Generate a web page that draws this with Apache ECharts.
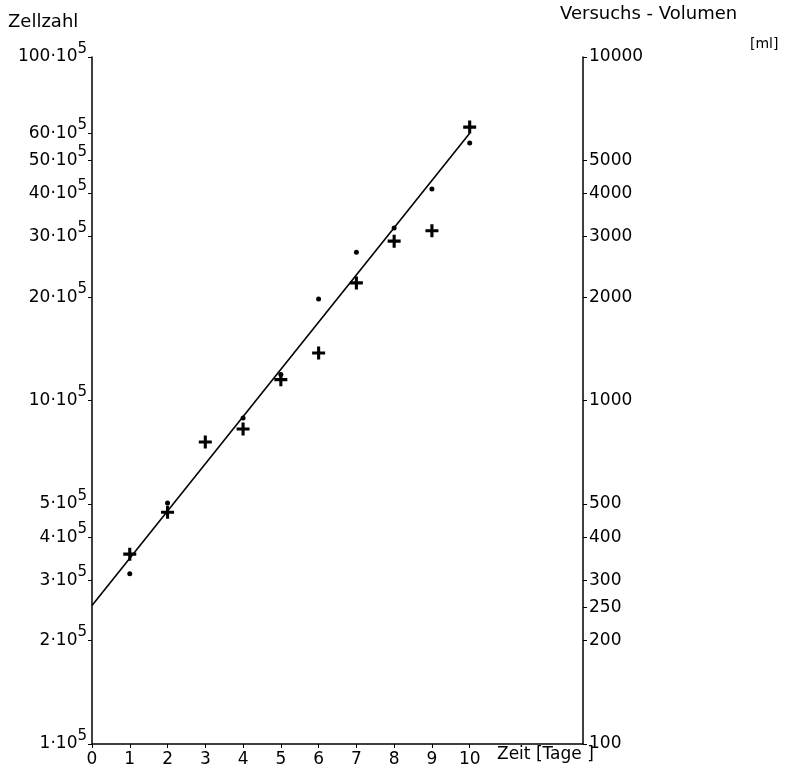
<!DOCTYPE html>
<html><head><meta charset="utf-8">
<script src="https://cdn.jsdelivr.net/npm/echarts@6/dist/echarts.min.js"></script>
<style>html,body{margin:0;padding:0;background:#fff}#c{width:810px;height:771px}</style>
</head><body><div id="c"></div>
<script>
const days = [0,1,2,3,4,5,6,7,8,9,10];
const xTickLabels = ['0','1','2','3','4','5','6','7','8','9','10'];
const leftTicks = [1e5,2e5,3e5,4e5,5e5,1e6,2e6,3e6,4e6,5e6,6e6,1e7];
const rightTicks = [100,200,250,300,400,500,1000,2000,3000,4000,5000,10000];
const crossDays = [1,2,3,4,5,6,7,8,9,10];
const crossVals = [3.57e5,4.73e5,7.57e5,8.26e5,1.15e6,1.375e6,2.2e6,2.91e6,3.12e6,6.25e6];
const dotDays = [1,2,4,5,6,7,8,9,10];
const dotVals = [3.13e5,5.03e5,8.9e5,1.19e6,1.975e6,2.7e6,3.18e6,4.13e6,5.62e6];
const fitDays = [0,10];
const fitVals = [2.53e5,6.0e6];

const FONT = 'DejaVu Sans';
const chart = echarts.init(document.getElementById('c'));
const plus = 'path://M3.8,0H6.2V3.8H10V6.2H6.2V10H3.8V6.2H0V3.8H3.8Z';
chart.setOption({
  backgroundColor:'#fff',
  animation:false,
  grid:{left:92,right:227,top:57,bottom:27,containLabel:false},
  xAxis:{type:'value',min:0,max:13,interval:1,
    axisLine:{lineStyle:{color:'#000',width:1.5}},
    axisTick:{show:true,length:4,inside:false,customValues:days,lineStyle:{color:'#000'}},
    axisLabel:{customValues:days,color:'#000',fontFamily:FONT,fontSize:17,margin:7,
      formatter:v=>xTickLabels[days.indexOf(v)]},
    splitLine:{show:false}},
  yAxis:[
   {type:'log',min:1e5,max:1e7,position:'left',
    axisLine:{show:true,lineStyle:{color:'#000',width:1.5}},
    axisTick:{show:true,length:4,customValues:leftTicks,lineStyle:{color:'#000'}},
    axisLabel:{customValues:leftTicks,color:'#000',fontFamily:FONT,margin:5,
      formatter:v=>'{b|'+Math.round(v/1e5)+'·10}{s|5}',
      rich:{b:{fontSize:17,fontFamily:FONT,color:'#000'},s:{fontSize:15,fontFamily:FONT,color:'#000',padding:[0,0,16,0]}}},
    splitLine:{show:false}},
   {type:'log',min:100,max:10000,position:'right',
    axisLine:{show:true,lineStyle:{color:'#000',width:1.5}},
    axisTick:{show:true,length:4,customValues:rightTicks,lineStyle:{color:'#000'}},
    axisLabel:{customValues:rightTicks,color:'#000',fontFamily:FONT,fontSize:17,margin:6,
      formatter:v=>String(Math.round(v))},
    splitLine:{show:false}}
  ],
  graphic:[
    {type:'text',left:8,top:13,style:{text:'Zellzahl',font:'18px "DejaVu Sans"',fill:'#000'}},
    {type:'text',left:560,top:5,style:{text:'Versuchs - Volumen',font:'18px "DejaVu Sans"',fill:'#000'}},
    {type:'text',left:750,top:37,style:{text:'[ml]',font:'14px "DejaVu Sans"',fill:'#000'}},
    {type:'text',left:497,top:746,style:{text:'Zeit [Tage ]',font:'17px "DejaVu Sans"',fill:'#000'}}
  ],
  series:[
    {type:'line',data:fitDays.map((d,i)=>[d,fitVals[i]]),showSymbol:false,symbol:'none',
      lineStyle:{color:'#000',width:1.6},z:2},
    {type:'scatter',data:crossDays.map((d,i)=>[d,crossVals[i]]),symbol:plus,symbolSize:13,
      itemStyle:{color:'#000',opacity:1},z:3},
    {type:'scatter',data:dotDays.map((d,i)=>[d,dotVals[i]]),symbol:'circle',symbolSize:5,
      itemStyle:{color:'#000',opacity:1},z:3}
  ]
});
</script></body></html>
